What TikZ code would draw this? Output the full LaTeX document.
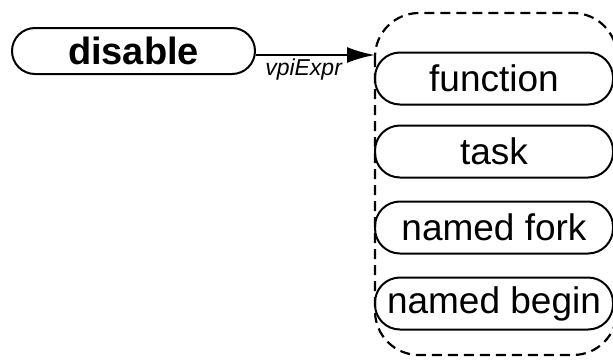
\documentclass[tikz,border=0pt]{standalone}
\usepackage{fontspec}
\setmainfont{Liberation Sans}
\usetikzlibrary{arrows.meta}
\begin{document}
\begin{tikzpicture}[x=1pt,y=-1pt,
  objbox/.style={draw,line width=2pt,rounded corners=25pt,minimum width=238pt,minimum height=52pt,inner sep=0pt,font=\fontsize{37}{39}\selectfont},
  mainbox/.style={draw,line width=2pt,rounded corners=23pt,minimum width=243pt,minimum height=46pt,inner sep=0pt,font=\bfseries\fontsize{38}{40}\selectfont},
  group/.style={draw,line width=2.2pt,dash pattern=on 10pt off 6pt,rounded corners=44pt}]
\useasboundingbox (0,0) rectangle (613,360);
\node[mainbox] (disable) at (133.5,51) {disable};
\node[objbox] (function) at (494,78.5) {function};
\node[objbox] (task) at (494,151.5) {task};
\node[objbox] (fork) at (494,227.5) {named fork};
\node[objbox] (begin) at (494,303.5) {named begin};
\draw[group] (375,13) rectangle (617,355);
\coordinate (tip) at (375,55);
\draw[line width=2.6pt,-{Latex[length=28pt,width=16pt]}] (disable.east |- tip) -- (tip)
  node[pos=0.4,below,yshift=-1pt,font=\itshape\fontsize{23}{25}\selectfont,inner sep=2pt] (lbl) {vpiExpr};
\end{tikzpicture}
\end{document}
